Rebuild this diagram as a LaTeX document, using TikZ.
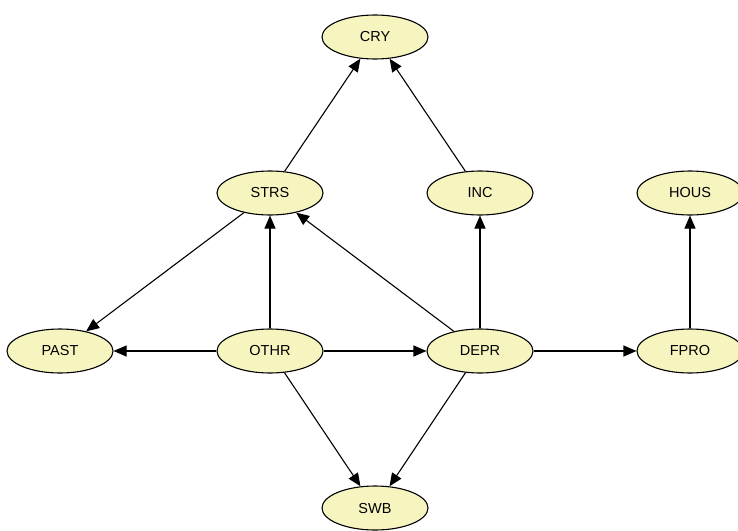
\documentclass[tikz,border=0pt]{standalone}
\usepackage{fontspec}
\setmainfont{Liberation Sans}
\usetikzlibrary{shapes.geometric,arrows.meta}
\definecolor{nodefill}{HTML}{F7F5BF}
\begin{document}
\begin{tikzpicture}[x=1pt,y=-1pt,line width=1.1pt,
  every node/.style={font=\fontsize{14.5}{16}\selectfont},
  var/.style={ellipse,draw,fill=nodefill,minimum width=106pt,minimum height=44pt,inner sep=0pt},
  every edge/.style={draw,-{Triangle[length=13pt,width=11pt]}}]
  \useasboundingbox (0,0) rectangle (738,530);
  \node[var] (CRY) at (375,37) {CRY};
  \node[var] (STRS) at (270,193) {STRS};
  \node[var] (INC) at (480,193) {INC};
  \node[var] (HOUS) at (690,193) {HOUS};
  \node[var] (PAST) at (60,351) {PAST};
  \node[var] (OTHR) at (270,351) {OTHR};
  \node[var] (DEPR) at (480,351) {DEPR};
  \node[var] (FPRO) at (690,351) {FPRO};
  \node[var] (SWB) at (375,508) {SWB};
  \path (STRS) edge (CRY);
  \path (INC) edge (CRY);
  \path (DEPR) edge (INC);
  \path (FPRO) edge (HOUS);
  \path (STRS) edge (PAST);
  \path (OTHR) edge (STRS);
  \path (DEPR) edge (STRS);
  \path (OTHR) edge (PAST);
  \path (OTHR) edge (DEPR);
  \path (DEPR) edge (FPRO);
  \path (OTHR) edge (SWB);
  \path (DEPR) edge (SWB);
\end{tikzpicture}
\end{document}
